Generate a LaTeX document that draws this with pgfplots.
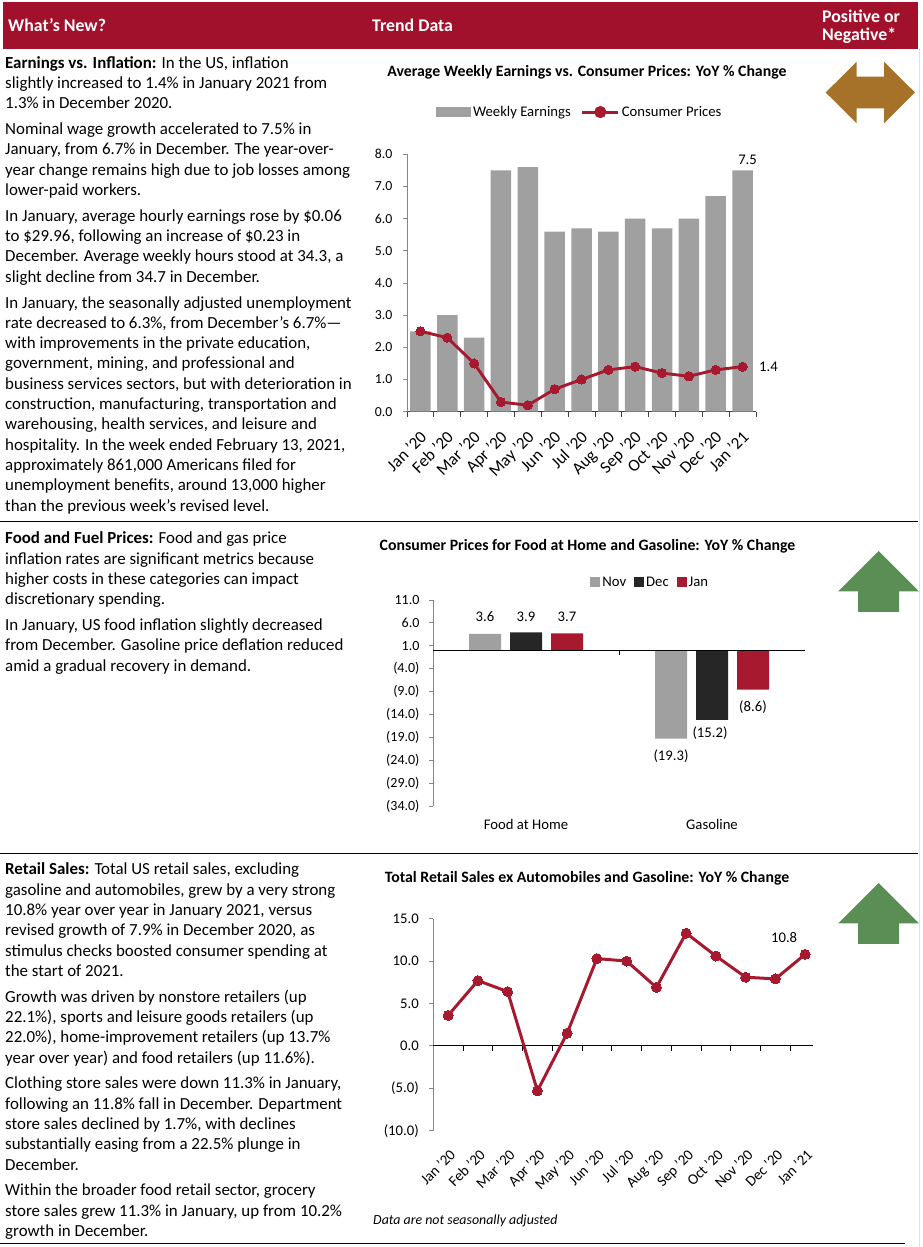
\documentclass[border=0pt]{standalone}
\usepackage{fontspec}
\setmainfont{Carlito}
\usepackage{pgfplots}
\pgfplotsset{compat=1.18}
\definecolor{hdr}{HTML}{A1112B}
\definecolor{cpi}{HTML}{A6192E}
\definecolor{bargray}{HTML}{A0A0A0}
\definecolor{decblack}{HTML}{262626}
\definecolor{axgray}{HTML}{868686}
\definecolor{arrbrown}{HTML}{A67128}
\definecolor{arrgreen}{HTML}{5A8E55}
\newcommand\fs[1]{\fontsize{#1}{#1}\selectfont}
\newcommand\bl[2]{\node[anchor=base west,inner sep=0pt,font=\fs{16.9}] at (5,{1247-#1}) {#2};}
\begin{document}
\begin{tikzpicture}[x=1pt,y=1pt]
\path[use as bounding box] (0,0) rectangle (922,1247);
% header
\fill[hdr] (3,1247-2) rectangle (918,1247-49);
\node[anchor=west,inner sep=0pt,text=white,font=\bfseries\fs{17.8}] at (8,1247-25) {What’s New?};
\node[anchor=west,inner sep=0pt,text=white,font=\bfseries\fs{17.8}] at (372,1247-25) {Trend Data};
\node[anchor=west,inner sep=0pt,text=white,font=\bfseries\fs{17.8}] at (822,1247-16) {Positive or};
\node[anchor=west,inner sep=0pt,text=white,font=\bfseries\fs{17.8}] at (822,1247-36) {Negative*};
% separators
\draw[line width=0.9pt] (0,1247-521) -- (918,1247-521);
\draw[line width=0.9pt] (0,1247-853) -- (918,1247-853);
\draw[line width=0.9pt] (0,1247-1243) -- (905,1247-1243);
\draw[gray!25, line width=0.6pt] (919,1247-49) -- (919,0);
% section 1 text
\bl{68.3}{\textbf{Earnings vs. Inflation:} In the US, inflation}
\bl{88.6}{slightly increased to 1.4\% in January 2021 from}
\bl{108.9}{1.3\% in December 2020.}
\bl{134.7}{Nominal wage growth accelerated to 7.5\% in}
\bl{155.0}{January, from 6.7\% in December. The year-over-}
\bl{175.3}{year change remains high due to job losses among}
\bl{195.6}{lower-paid workers.}
\bl{221.4}{In January, average hourly earnings rose by \$0.06}
\bl{241.7}{to \$29.96, following an increase of \$0.23 in}
\bl{262.0}{December. Average weekly hours stood at 34.3, a}
\bl{282.3}{slight decline from 34.7 in December.}
\bl{308.1}{In January, the seasonally adjusted unemployment}
\bl{328.4}{rate decreased to 6.3\%, from December’s 6.7\%—}
\bl{348.7}{with improvements in the private education,}
\bl{369.0}{government, mining, and professional and}
\bl{389.3}{business services sectors, but with deterioration in}
\bl{409.6}{construction, manufacturing, transportation and}
\bl{429.9}{warehousing, health services, and leisure and}
\bl{450.2}{hospitality. In the week ended February 13, 2021,}
\bl{470.5}{approximately 861,000 Americans filed for}
\bl{490.8}{unemployment benefits, around 13,000 higher}
\bl{511.1}{than the previous week’s revised level.}
% section 2 text
\bl{544.0}{\textbf{Food and Fuel Prices:} Food and gas price}
\bl{564.3}{inflation rates are significant metrics because}
\bl{584.6}{higher costs in these categories can impact}
\bl{604.9}{discretionary spending.}
\bl{630.7}{In January, US food inflation slightly decreased}
\bl{651.0}{from December. Gasoline price deflation reduced}
\bl{671.3}{amid a gradual recovery in demand.}
% section 3 text
\bl{875.0}{\textbf{Retail Sales:} Total US retail sales, excluding}
\bl{895.3}{gasoline and automobiles, grew by a very strong}
\bl{915.6}{10.8\% year over year in January 2021, versus}
\bl{935.9}{revised growth of 7.9\% in December 2020, as}
\bl{956.2}{stimulus checks boosted consumer spending at}
\bl{976.5}{the start of 2021.}
\bl{1002.3}{Growth was driven by nonstore retailers (up}
\bl{1022.6}{22.1\%), sports and leisure goods retailers (up}
\bl{1042.9}{22.0\%), home-improvement retailers (up 13.7\%}
\bl{1063.2}{year over year) and food retailers (up 11.6\%).}
\bl{1089.0}{Clothing store sales were down 11.3\% in January,}
\bl{1109.3}{following an 11.8\% fall in December. Department}
\bl{1129.6}{store sales declined by 1.7\%, with declines}
\bl{1149.9}{substantially easing from a 22.5\% plunge in}
\bl{1170.2}{December.}
\bl{1196.0}{Within the broader food retail sector, grocery}
\bl{1216.3}{store sales grew 11.3\% in January, up from 10.2\%}
\bl{1236.6}{growth in December.}
% arrows
\fill[arrbrown] (825.7,1154.5) -- (856.7,1185.3) -- (856.7,1170.3) -- (884,1170.3) -- (884,1185.3) -- (915,1154.5) -- (884,1123.7) -- (884,1138.7) -- (856.7,1138.7) -- (856.7,1123.7) -- cycle;
\fill[arrgreen] (878.5,1247-551) -- (919,1247-591.5) -- (899,1247-591.5) -- (899,1247-612) -- (858,1247-612) -- (858,1247-591.5) -- (838,1247-591.5) -- cycle;
\fill[arrgreen] (878.5,1247-883) -- (919,1247-923.5) -- (899,1247-923.5) -- (899,1247-944) -- (858,1247-944) -- (858,1247-923.5) -- (838,1247-923.5) -- cycle;
% titles
\node[font=\bfseries\fs{15.8}] at (587,1247-72) {Average Weekly Earnings vs. Consumer Prices: YoY \% Change};
\node[font=\bfseries\fs{15.8}] at (587.5,1247-546) {Consumer Prices for Food at Home and Gasoline: YoY \% Change};
\node[font=\bfseries\fs{15.8}] at (587,1247-878) {Total Retail Sales ex Automobiles and Gasoline: YoY \% Change};
\node[anchor=west,inner sep=0pt,font=\itshape\fs{13.9}] at (373,1247-1221) {Data are not seasonally adjusted};

% ---------- chart 1
\begin{axis}[
  at={(407pt,835.3pt)}, anchor=south west,
  scale only axis, width=349pt, height=257.4pt,
  xmin=-0.5, xmax=12.5, ymin=0, ymax=8,
  axis x line*=bottom, axis y line*=left,
  x axis line style={black!75, line width=0.8pt},
  y axis line style={axgray, line width=0.8pt},
  tick align=outside,
  xtick={0,...,12},
  xticklabels={Jan ’20,Feb ’20,Mar ’20,Apr ’20,May ’20,Jun ’20,Jul ’20,Aug ’20,Sep ’20,Oct ’20,Nov ’20,Dec ’20,Jan ’21},
  major x tick style={draw=none},
  minor xtick={-0.5,0.5,...,12.5},
  minor x tick style={black!75, line width=0.8pt},
  minor tick length=5pt,
  major tick length=4pt,
  ytick={0,1,...,8},
  yticklabels={0.0,1.0,2.0,3.0,4.0,5.0,6.0,7.0,8.0},
  ytick style={axgray, line width=0.8pt},
  xticklabel style={rotate=45, anchor=north east, font=\fs{17}, inner sep=1pt, xshift=-10pt, yshift=-8pt},
  yticklabel style={font=\fs{13.8}, xshift=-7pt},
  clip=false,
  legend style={at={(0.495,1.164)}, anchor=center, draw=none, fill=none, font=\fs{14.7}, inner sep=0pt,
    /tikz/every even column/.append style={column sep=8pt}},
  legend columns=2,
]
\addplot[ybar, bar width=20.5pt, fill=bargray, draw=none,
  legend image code/.code={\fill[bargray] (0pt,-5pt) rectangle (35pt,5pt);}]
  coordinates {(0,2.5) (1,3.0) (2,2.3) (3,7.5) (4,7.6) (5,5.6) (6,5.7) (7,5.6) (8,6.0) (9,5.7) (10,6.0) (11,6.7) (12,7.5)};
\addlegendentry{Weekly Earnings}
\addplot[cpi, line width=2.9pt, mark=*, mark size=4.6pt, mark options={solid, fill=cpi, draw=cpi, line width=0pt},
  legend image code/.code={\draw[cpi, line width=2.9pt] (0pt,0pt) -- (36pt,0pt); \fill[cpi] (18pt,0pt) circle (4.6pt);}]
  coordinates {(0,2.5) (1,2.3) (2,1.5) (3,0.3) (4,0.2) (5,0.7) (6,1.0) (7,1.3) (8,1.4) (9,1.2) (10,1.1) (11,1.3) (12,1.4)};
\addlegendentry{Consumer Prices}
\node[font=\fs{14.7}, anchor=south, xshift=5pt, yshift=2pt] at (axis cs:12,7.5) {7.5};
\node[font=\fs{14.7}, anchor=west, xshift=13pt] at (axis cs:12,1.4) {1.4};
\end{axis}

% ---------- chart 2
\begin{axis}[
  at={(433pt,441pt)}, anchor=south west,
  scale only axis, width=372pt, height=206pt,
  xmin=-0.5, xmax=1.5, ymin=-34, ymax=11,
  ybar=9pt, bar width=32pt,
  axis x line*=bottom, axis y line*=left,
  x axis line style={draw=none},
  y axis line style={axgray, line width=0.8pt},
  tick align=outside, major tick length=4pt,
  xtick={0,1}, xticklabels={Food at Home,Gasoline},
  major x tick style={draw=none},
  xticklabel style={font=\fs{14.7}, yshift=-6pt},
  ytick={-34,-29,...,11},
  yticklabels={(34.0),(29.0),(24.0),(19.0),(14.0),(9.0),(4.0),1.0,6.0,11.0},
  ytick style={axgray, line width=0.8pt},
  yticklabel style={font=\fs{14}, xshift=-6pt},
  clip=false,
  legend style={at={(0.584,1.087)}, anchor=center, draw=none, fill=none, font=\fs{14.7}, inner sep=0pt,
    /tikz/every even column/.append style={column sep=6pt}},
  legend columns=3,
]
\addplot[fill=bargray, draw=none, legend image code/.code={\fill[bargray] (0pt,-5pt) rectangle (10pt,5pt);}]
  coordinates {(0,3.6) (1,-19.3)};
\addlegendentry{Nov}
\addplot[fill=decblack, draw=none, legend image code/.code={\fill[decblack] (0pt,-5pt) rectangle (10pt,5pt);}]
  coordinates {(0,3.9) (1,-15.2)};
\addlegendentry{Dec}
\addplot[fill=cpi, draw=none, legend image code/.code={\fill[cpi] (0pt,-5pt) rectangle (10pt,5pt);}]
  coordinates {(0,3.7) (1,-8.6)};
\addlegendentry{Jan}
\draw[black, line width=0.8pt] (axis cs:-0.5,0) -- (axis cs:1.5,0);
\draw[black, line width=0.8pt] (axis cs:0.5,0) -- ++(0pt,-5pt);
\node[font=\fs{14.7}, xshift=-41pt] at (axis cs:0,7.36) {3.6};
\node[font=\fs{14.7}] at (axis cs:0,7.36) {3.9};
\node[font=\fs{14.7}, xshift=41pt] at (axis cs:0,7.36) {3.7};
\node[font=\fs{14.7}, xshift=-41pt] at (axis cs:1,-23.2) {(19.3)};
\node[font=\fs{14.7}, xshift=-2pt] at (axis cs:1,-18.0) {(15.2)};
\node[font=\fs{14.7}, xshift=41pt] at (axis cs:1,-12.5) {(8.6)};
\end{axis}

% ---------- chart 3
\begin{axis}[
  at={(433.3pt,116.3pt)}, anchor=south west,
  scale only axis, width=386.7pt, height=212pt,
  xmin=-0.5, xmax=12.5, ymin=-10, ymax=15,
  axis x line*=bottom, axis y line*=left,
  x axis line style={draw=none},
  y axis line style={axgray, line width=0.8pt},
  tick align=outside, major tick length=4pt,
  xtick={0,...,12},
  xticklabels={Jan ’20,Feb ’20,Mar ’20,Apr ’20,May ’20,Jun ’20,Jul ’20,Aug ’20,Sep ’20,Oct ’20,Nov ’20,Dec ’20,Jan ’21},
  major x tick style={draw=none},
  xticklabel style={rotate=45, anchor=north east, font=\fs{15}, inner sep=1pt, xshift=-8pt, yshift=-9pt},
  ytick={-10,-5,...,15},
  yticklabels={(10.0),(5.0),0.0,5.0,10.0,15.0},
  ytick style={axgray, line width=0.8pt},
  yticklabel style={font=\fs{14.7}, xshift=-7pt},
  clip=false,
]
\draw[black, line width=0.8pt] (axis cs:-0.5,0) -- (axis cs:12.26,0);
\pgfplotsinvokeforeach{0.5,1.5,...,11.5}{\draw[black, line width=0.8pt] (axis cs:#1,0) -- ++(0pt,-5pt);}
\addplot[cpi, line width=3pt, mark=*, mark size=5pt, mark options={solid, fill=cpi, draw=cpi, line width=0pt}]
  coordinates {(0,3.6) (1,7.7) (2,6.4) (3,-5.3) (4,1.5) (5,10.3) (6,10.0) (7,6.9) (8,13.3) (9,10.6) (10,8.1) (11,7.9) (12,10.8)};
\node[font=\fs{14.7}, xshift=-21pt, yshift=17pt] at (axis cs:12,10.8) {10.8};
\end{axis}
\end{tikzpicture}
\end{document}
